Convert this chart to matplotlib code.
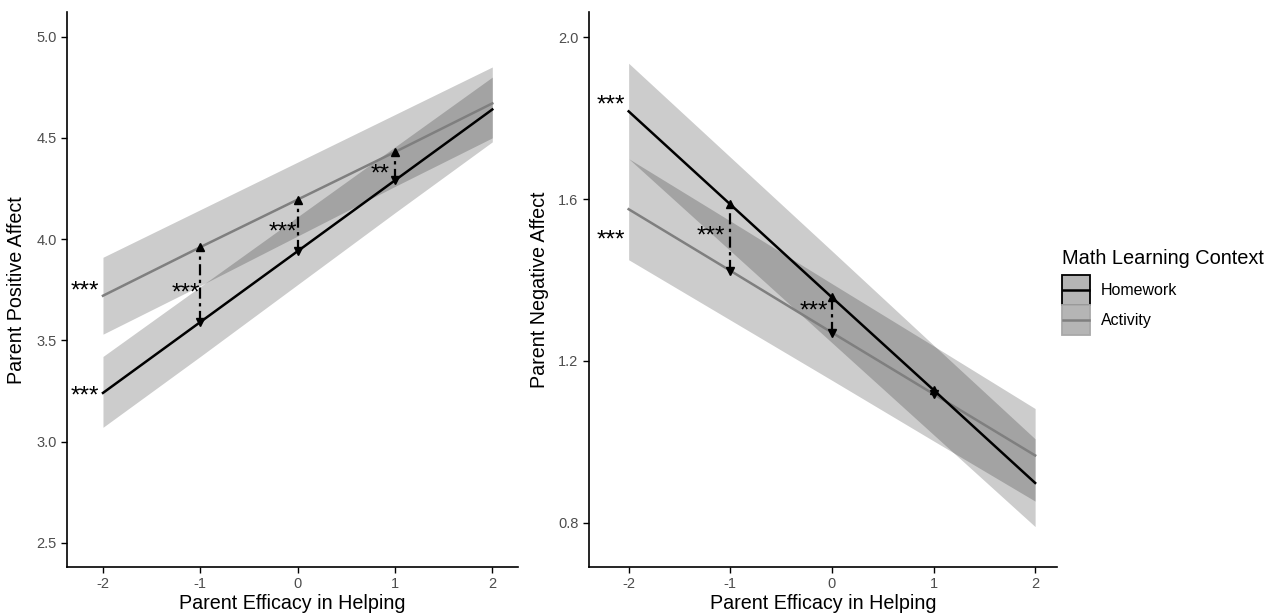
import numpy as np
import matplotlib.pyplot as plt
from matplotlib.patches import Rectangle
from matplotlib.lines import Line2D
from matplotlib.legend_handler import HandlerBase

plt.rcParams['font.family'] = ['Liberation Sans', 'DejaVu Sans']

# predictor levels
efficacy = [-2, -1, 0, 1, 2]

# positive affect
pos_hw = [3.24, 3.59, 3.94, 4.29, 4.64]
pos_hw_lo = [3.07, 3.42, 3.775, 4.13, 4.48]
pos_hw_hi = [3.42, 3.765, 4.11, 4.455, 4.80]
pos_act = [3.72, 3.96, 4.195, 4.43, 4.67]
pos_act_lo = [3.53, 3.77, 4.015, 4.26, 4.50]
pos_act_hi = [3.91, 4.145, 4.38, 4.615, 4.85]

# negative affect
neg_hw = [1.817, 1.587, 1.357, 1.128, 0.898]
neg_hw_lo = [1.70, 1.4725, 1.245, 1.0175, 0.79]
neg_hw_hi = [1.936, 1.704, 1.472, 1.239, 1.007]
neg_act = [1.575, 1.423, 1.27, 1.118, 0.966]
neg_act_lo = [1.45, 1.301, 1.152, 1.002, 0.853]
neg_act_hi = [1.70, 1.546, 1.391, 1.237, 1.082]

# significance labels: (x, y, text)
pos_stars = [(-2.19, 3.74, '***'), (-2.19, 3.22, '***'),
             (-1.15, 3.73, '***'), (-0.15, 4.03, '***'), (0.85, 4.32, '**')]
pos_arrows = [-1, 0, 1]
neg_stars = [(-2.17, 1.832, '***'), (-2.17, 1.497, '***'),
             (-1.19, 1.507, '***'), (-0.18, 1.323, '***')]
neg_arrows = [-1, 0, 1]

contexts = ['Homework', 'Activity']
line_colors = ['black', '#7f7f7f']
key_edges = ['black', '#a8a8a8']


class LegendKey:
    def __init__(self, edge, line):
        self.edge = edge
        self.line = line


class KeyHandler(HandlerBase):
    def create_artists(self, legend, orig_handle, xdescent, ydescent,
                       width, height, fontsize, trans):
        rect = Rectangle((-xdescent, -ydescent), width, height,
                         facecolor='#b5b5b5', edgecolor=orig_handle.edge,
                         lw=1.3, transform=trans)
        yc = -ydescent + height / 2
        ln = Line2D([-xdescent + 1, -xdescent + width - 1], [yc, yc],
                    color=orig_handle.line, lw=1.8, transform=trans)
        return [rect, ln]


def draw_panel(ax, hw, hw_lo, hw_hi, act, act_lo, act_hi, stars, arrows):
    ax.fill_between(efficacy, hw_lo, hw_hi, color='black', alpha=0.2, lw=0)
    ax.fill_between(efficacy, act_lo, act_hi, color='black', alpha=0.2, lw=0)
    ax.plot(efficacy, act, color=line_colors[1], lw=1.8)
    ax.plot(efficacy, hw, color=line_colors[0], lw=1.8)
    for xa in arrows:
        i = efficacy.index(xa)
        top, bot = max(hw[i], act[i]), min(hw[i], act[i])
        ax.plot([xa, xa], [bot, top], color='black', lw=1.6,
                dashes=(5, 2, 1.5, 2))
        ax.plot([xa], [top], marker='^', color='black', ms=5.5)
        ax.plot([xa], [bot], marker='v', color='black', ms=5.5)
    for x, y, t in stars:
        ax.text(x, y, t, fontsize=17.5, ha='center', va='center')
    for s in ['top', 'right']:
        ax.spines[s].set_visible(False)
    for s in ['left', 'bottom']:
        ax.spines[s].set_linewidth(1.2)
    ax.tick_params(axis='both', labelsize=10.5, labelcolor='#4d4d4d',
                   length=4, width=1)
    ax.set_xticks(efficacy)
    ax.set_xticklabels([str(v) for v in efficacy])
    ax.set_xlabel('Parent Efficacy in Helping', fontsize=14.2, labelpad=2)


fig = plt.figure(figsize=(12.73, 6.15), dpi=100)
ax1 = fig.add_axes([0.0526, 0.078, 0.354, 0.902])
ax2 = fig.add_axes([0.4627, 0.078, 0.368, 0.902])

draw_panel(ax1, pos_hw, pos_hw_lo, pos_hw_hi, pos_act, pos_act_lo, pos_act_hi,
           pos_stars, pos_arrows)
ax1.set_xlim(-2.37, 2.26)
ax1.set_ylim(2.38, 5.12)
ax1.set_yticks([2.5, 3.0, 3.5, 4.0, 4.5, 5.0])
ax1.set_yticklabels(['2.5', '3.0', '3.5', '4.0', '4.5', '5.0'])
ax1.set_ylabel('Parent Positive Affect', fontsize=14.2, labelpad=7)

draw_panel(ax2, neg_hw, neg_hw_lo, neg_hw_hi, neg_act, neg_act_lo, neg_act_hi,
           neg_stars, neg_arrows)
ax2.set_xlim(-2.39, 2.22)
ax2.set_ylim(0.69, 2.062)
ax2.set_yticks([0.8, 1.2, 1.6, 2.0])
ax2.set_yticklabels(['0.8', '1.2', '1.6', '2.0'])
ax2.set_ylabel('Parent Negative Affect', fontsize=14.2, labelpad=7)

handles = [LegendKey(e, c) for e, c in zip(key_edges, line_colors)]
leg = fig.legend(handles, contexts, title='Math Learning Context',
                 handler_map={LegendKey: KeyHandler()},
                 loc='upper left', bbox_to_anchor=(0.829, 0.605), frameon=False,
                 fontsize=11.5, title_fontsize=14.4, handlelength=1.8,
                 handleheight=2.5, labelspacing=0.0, handletextpad=0.65,
                 borderaxespad=0.0)
leg._legend_box.align = 'left'
leg._legend_box.sep = 5

fig.savefig('out.png', dpi=100)
